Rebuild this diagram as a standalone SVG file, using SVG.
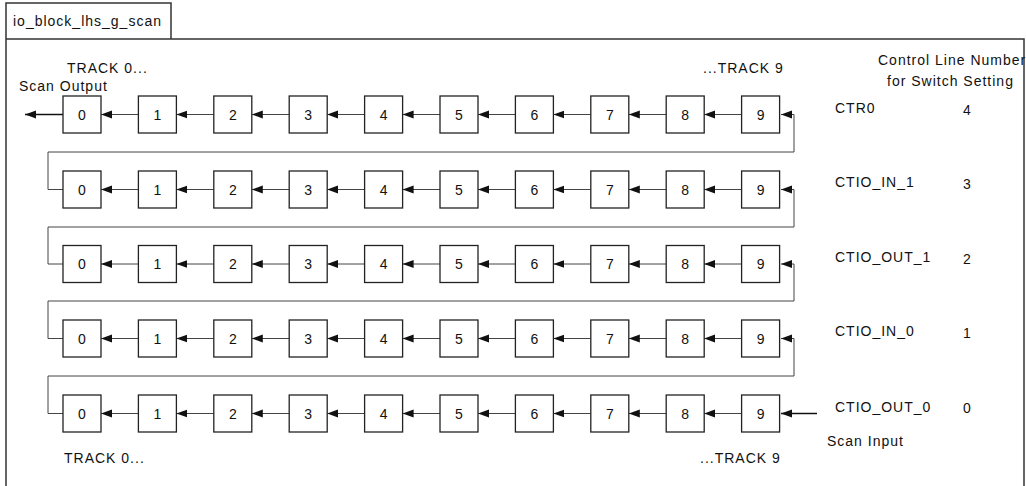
<svg xmlns="http://www.w3.org/2000/svg" width="1026" height="486" viewBox="0 0 1026 486">
<defs>
<style>
text{font-family:"Liberation Sans",Arial,sans-serif;font-size:14px;fill:#111;letter-spacing:1px}
.num{text-anchor:middle;letter-spacing:0}
.box rect{fill:#fff;stroke:#222;stroke-width:1.3}
.c{fill:none;stroke:#444;stroke-width:1}
.thick{stroke:#111;stroke-width:1.6}
.frame{fill:none;stroke:#333;stroke-width:1.5}
</style>
<marker id="ah" markerUnits="userSpaceOnUse" markerWidth="12" markerHeight="10" refX="11" refY="4" orient="auto">
<path d="M0,0 L11,4 L0,8 Z" fill="#111"/>
</marker>
</defs>
<g id="frame">
<path class="frame" d="M6,487 V3 H171 V39 M6,39 H1024 V487"/>
<text x="13" y="26">io_block_lhs_g_scan</text>
</g>
<g id="labels">
<text x="67" y="73">TRACK 0...</text>
<text x="703" y="73">...TRACK 9</text>
<text x="19" y="91">Scan Output</text>
<text x="878" y="65">Control Line Number</text>
<text x="887" y="86">for Switch Setting</text>
<text x="835" y="113">CTR0</text><text x="963" y="115">4</text>
<text x="835" y="187">CTIO_IN_1</text><text x="963" y="189">3</text>
<text x="835" y="262">CTIO_OUT_1</text><text x="963" y="264">2</text>
<text x="835" y="336">CTIO_IN_0</text><text x="963" y="338">1</text>
<text x="835" y="412">CTIO_OUT_0</text><text x="963" y="413">0</text>
<text x="827" y="446">Scan Input</text>
<text x="64" y="463">TRACK 0...</text>
<text x="700" y="463">...TRACK 9</text>
</g>
<g id="connectors">
<!-- row connectors -->
<path class="c" marker-end="url(#ah)" d="M138.4,114.5H101"/><path class="c" marker-end="url(#ah)" d="M213.8,114.5H176.4"/><path class="c" marker-end="url(#ah)" d="M289.2,114.5H251.8"/><path class="c" marker-end="url(#ah)" d="M364.6,114.5H327.2"/><path class="c" marker-end="url(#ah)" d="M440,114.5H402.6"/><path class="c" marker-end="url(#ah)" d="M515.4,114.5H478"/><path class="c" marker-end="url(#ah)" d="M590.8,114.5H553.4"/><path class="c" marker-end="url(#ah)" d="M666.2,114.5H628.8"/><path class="c" marker-end="url(#ah)" d="M741.6,114.5H704.2"/>
<path class="c" marker-end="url(#ah)" d="M138.4,189.5H101"/><path class="c" marker-end="url(#ah)" d="M213.8,189.5H176.4"/><path class="c" marker-end="url(#ah)" d="M289.2,189.5H251.8"/><path class="c" marker-end="url(#ah)" d="M364.6,189.5H327.2"/><path class="c" marker-end="url(#ah)" d="M440,189.5H402.6"/><path class="c" marker-end="url(#ah)" d="M515.4,189.5H478"/><path class="c" marker-end="url(#ah)" d="M590.8,189.5H553.4"/><path class="c" marker-end="url(#ah)" d="M666.2,189.5H628.8"/><path class="c" marker-end="url(#ah)" d="M741.6,189.5H704.2"/>
<path class="c" marker-end="url(#ah)" d="M138.4,264H101"/><path class="c" marker-end="url(#ah)" d="M213.8,264H176.4"/><path class="c" marker-end="url(#ah)" d="M289.2,264H251.8"/><path class="c" marker-end="url(#ah)" d="M364.6,264H327.2"/><path class="c" marker-end="url(#ah)" d="M440,264H402.6"/><path class="c" marker-end="url(#ah)" d="M515.4,264H478"/><path class="c" marker-end="url(#ah)" d="M590.8,264H553.4"/><path class="c" marker-end="url(#ah)" d="M666.2,264H628.8"/><path class="c" marker-end="url(#ah)" d="M741.6,264H704.2"/>
<path class="c" marker-end="url(#ah)" d="M138.4,338.5H101"/><path class="c" marker-end="url(#ah)" d="M213.8,338.5H176.4"/><path class="c" marker-end="url(#ah)" d="M289.2,338.5H251.8"/><path class="c" marker-end="url(#ah)" d="M364.6,338.5H327.2"/><path class="c" marker-end="url(#ah)" d="M440,338.5H402.6"/><path class="c" marker-end="url(#ah)" d="M515.4,338.5H478"/><path class="c" marker-end="url(#ah)" d="M590.8,338.5H553.4"/><path class="c" marker-end="url(#ah)" d="M666.2,338.5H628.8"/><path class="c" marker-end="url(#ah)" d="M741.6,338.5H704.2"/>
<path class="c" marker-end="url(#ah)" d="M138.4,413.5H101"/><path class="c" marker-end="url(#ah)" d="M213.8,413.5H176.4"/><path class="c" marker-end="url(#ah)" d="M289.2,413.5H251.8"/><path class="c" marker-end="url(#ah)" d="M364.6,413.5H327.2"/><path class="c" marker-end="url(#ah)" d="M440,413.5H402.6"/><path class="c" marker-end="url(#ah)" d="M515.4,413.5H478"/><path class="c" marker-end="url(#ah)" d="M590.8,413.5H553.4"/><path class="c" marker-end="url(#ah)" d="M666.2,413.5H628.8"/><path class="c" marker-end="url(#ah)" d="M741.6,413.5H704.2"/>
<!-- wraps -->
<path class="c" marker-end="url(#ah)" d="M63,189.5H48V152H794V114.5H781"/>
<path class="c" marker-end="url(#ah)" d="M63,264H48V227H794V189.5H781"/>
<path class="c" marker-end="url(#ah)" d="M63,338.5H48V301H794V264H781"/>
<path class="c" marker-end="url(#ah)" d="M63,413.5H48V376H794V338.5H781"/>
<!-- scan in/out -->
<path class="c thick" marker-end="url(#ah)" d="M63,114.5H25"/>
<path class="c thick" marker-end="url(#ah)" d="M817,413.5H781"/>
</g>
<g id="row1">
<g id="r1n0" class="box"><rect x="63" y="96" width="38" height="37"/><text class="num" x="82" y="119.5">0</text></g>
<g id="r1n1" class="box"><rect x="138.4" y="96" width="38" height="37"/><text class="num" x="157.4" y="119.5">1</text></g>
<g id="r1n2" class="box"><rect x="213.8" y="96" width="38" height="37"/><text class="num" x="232.8" y="119.5">2</text></g>
<g id="r1n3" class="box"><rect x="289.2" y="96" width="38" height="37"/><text class="num" x="308.2" y="119.5">3</text></g>
<g id="r1n4" class="box"><rect x="364.6" y="96" width="38" height="37"/><text class="num" x="383.6" y="119.5">4</text></g>
<g id="r1n5" class="box"><rect x="440" y="96" width="38" height="37"/><text class="num" x="459" y="119.5">5</text></g>
<g id="r1n6" class="box"><rect x="515.4" y="96" width="38" height="37"/><text class="num" x="534.4" y="119.5">6</text></g>
<g id="r1n7" class="box"><rect x="590.8" y="96" width="38" height="37"/><text class="num" x="609.8" y="119.5">7</text></g>
<g id="r1n8" class="box"><rect x="666.2" y="96" width="38" height="37"/><text class="num" x="685.2" y="119.5">8</text></g>
<g id="r1n9" class="box"><rect x="741.6" y="96" width="38" height="37"/><text class="num" x="760.6" y="119.5">9</text></g>
</g>
<g id="row2">
<g id="r2n0" class="box"><rect x="63" y="171" width="38" height="37"/><text class="num" x="82" y="194.5">0</text></g>
<g id="r2n1" class="box"><rect x="138.4" y="171" width="38" height="37"/><text class="num" x="157.4" y="194.5">1</text></g>
<g id="r2n2" class="box"><rect x="213.8" y="171" width="38" height="37"/><text class="num" x="232.8" y="194.5">2</text></g>
<g id="r2n3" class="box"><rect x="289.2" y="171" width="38" height="37"/><text class="num" x="308.2" y="194.5">3</text></g>
<g id="r2n4" class="box"><rect x="364.6" y="171" width="38" height="37"/><text class="num" x="383.6" y="194.5">4</text></g>
<g id="r2n5" class="box"><rect x="440" y="171" width="38" height="37"/><text class="num" x="459" y="194.5">5</text></g>
<g id="r2n6" class="box"><rect x="515.4" y="171" width="38" height="37"/><text class="num" x="534.4" y="194.5">6</text></g>
<g id="r2n7" class="box"><rect x="590.8" y="171" width="38" height="37"/><text class="num" x="609.8" y="194.5">7</text></g>
<g id="r2n8" class="box"><rect x="666.2" y="171" width="38" height="37"/><text class="num" x="685.2" y="194.5">8</text></g>
<g id="r2n9" class="box"><rect x="741.6" y="171" width="38" height="37"/><text class="num" x="760.6" y="194.5">9</text></g>
</g>
<g id="row3">
<g id="r3n0" class="box"><rect x="63" y="245.5" width="38" height="37"/><text class="num" x="82" y="269">0</text></g>
<g id="r3n1" class="box"><rect x="138.4" y="245.5" width="38" height="37"/><text class="num" x="157.4" y="269">1</text></g>
<g id="r3n2" class="box"><rect x="213.8" y="245.5" width="38" height="37"/><text class="num" x="232.8" y="269">2</text></g>
<g id="r3n3" class="box"><rect x="289.2" y="245.5" width="38" height="37"/><text class="num" x="308.2" y="269">3</text></g>
<g id="r3n4" class="box"><rect x="364.6" y="245.5" width="38" height="37"/><text class="num" x="383.6" y="269">4</text></g>
<g id="r3n5" class="box"><rect x="440" y="245.5" width="38" height="37"/><text class="num" x="459" y="269">5</text></g>
<g id="r3n6" class="box"><rect x="515.4" y="245.5" width="38" height="37"/><text class="num" x="534.4" y="269">6</text></g>
<g id="r3n7" class="box"><rect x="590.8" y="245.5" width="38" height="37"/><text class="num" x="609.8" y="269">7</text></g>
<g id="r3n8" class="box"><rect x="666.2" y="245.5" width="38" height="37"/><text class="num" x="685.2" y="269">8</text></g>
<g id="r3n9" class="box"><rect x="741.6" y="245.5" width="38" height="37"/><text class="num" x="760.6" y="269">9</text></g>
</g>
<g id="row4">
<g id="r4n0" class="box"><rect x="63" y="320" width="38" height="37"/><text class="num" x="82" y="343.5">0</text></g>
<g id="r4n1" class="box"><rect x="138.4" y="320" width="38" height="37"/><text class="num" x="157.4" y="343.5">1</text></g>
<g id="r4n2" class="box"><rect x="213.8" y="320" width="38" height="37"/><text class="num" x="232.8" y="343.5">2</text></g>
<g id="r4n3" class="box"><rect x="289.2" y="320" width="38" height="37"/><text class="num" x="308.2" y="343.5">3</text></g>
<g id="r4n4" class="box"><rect x="364.6" y="320" width="38" height="37"/><text class="num" x="383.6" y="343.5">4</text></g>
<g id="r4n5" class="box"><rect x="440" y="320" width="38" height="37"/><text class="num" x="459" y="343.5">5</text></g>
<g id="r4n6" class="box"><rect x="515.4" y="320" width="38" height="37"/><text class="num" x="534.4" y="343.5">6</text></g>
<g id="r4n7" class="box"><rect x="590.8" y="320" width="38" height="37"/><text class="num" x="609.8" y="343.5">7</text></g>
<g id="r4n8" class="box"><rect x="666.2" y="320" width="38" height="37"/><text class="num" x="685.2" y="343.5">8</text></g>
<g id="r4n9" class="box"><rect x="741.6" y="320" width="38" height="37"/><text class="num" x="760.6" y="343.5">9</text></g>
</g>
<g id="row5">
<g id="r5n0" class="box"><rect x="63" y="395" width="38" height="37"/><text class="num" x="82" y="418.5">0</text></g>
<g id="r5n1" class="box"><rect x="138.4" y="395" width="38" height="37"/><text class="num" x="157.4" y="418.5">1</text></g>
<g id="r5n2" class="box"><rect x="213.8" y="395" width="38" height="37"/><text class="num" x="232.8" y="418.5">2</text></g>
<g id="r5n3" class="box"><rect x="289.2" y="395" width="38" height="37"/><text class="num" x="308.2" y="418.5">3</text></g>
<g id="r5n4" class="box"><rect x="364.6" y="395" width="38" height="37"/><text class="num" x="383.6" y="418.5">4</text></g>
<g id="r5n5" class="box"><rect x="440" y="395" width="38" height="37"/><text class="num" x="459" y="418.5">5</text></g>
<g id="r5n6" class="box"><rect x="515.4" y="395" width="38" height="37"/><text class="num" x="534.4" y="418.5">6</text></g>
<g id="r5n7" class="box"><rect x="590.8" y="395" width="38" height="37"/><text class="num" x="609.8" y="418.5">7</text></g>
<g id="r5n8" class="box"><rect x="666.2" y="395" width="38" height="37"/><text class="num" x="685.2" y="418.5">8</text></g>
<g id="r5n9" class="box"><rect x="741.6" y="395" width="38" height="37"/><text class="num" x="760.6" y="418.5">9</text></g>
</g>
</svg>
